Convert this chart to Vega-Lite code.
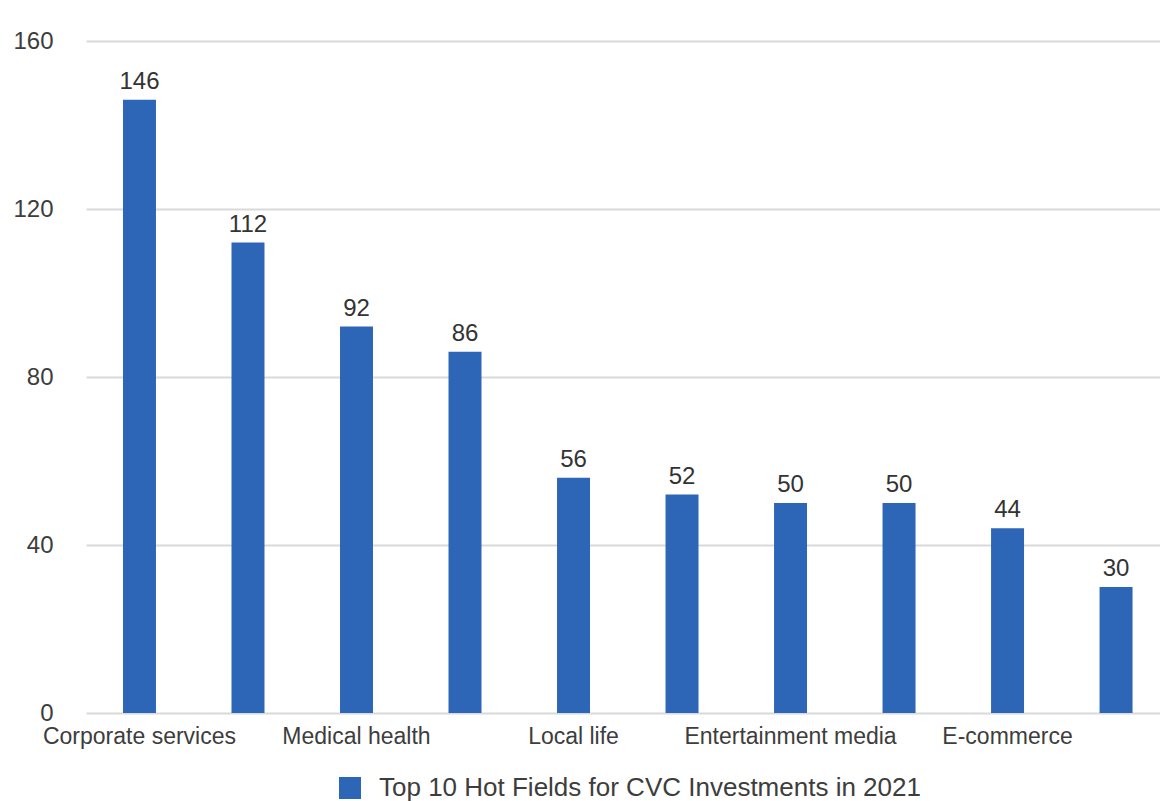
{
  "$schema": "https://vega.github.io/schema/vega-lite/v6.json",
  "autosize": "none",
  "padding": {"left": 86, "top": 41, "right": 0, "bottom": 88},
  "width": 1074,
  "height": 672,
  "background": "#ffffff",
  "config": {
    "view": {"stroke": null},
    "font": "Liberation Sans",
    "axis": {"labelColor": "#3d3d3d", "labelFont": "Liberation Sans"},
    "legend": {"labelColor": "#3d3d3d", "labelFont": "Liberation Sans"}
  },
  "data": {
    "values": [
      {"field": "Corporate services", "deals": 146, "series": "Top 10 Hot Fields for CVC Investments in 2021"},
      {"field": "Advanced manufacturing", "deals": 112, "series": "Top 10 Hot Fields for CVC Investments in 2021"},
      {"field": "Medical health", "deals": 92, "series": "Top 10 Hot Fields for CVC Investments in 2021"},
      {"field": "Hardware", "deals": 86, "series": "Top 10 Hot Fields for CVC Investments in 2021"},
      {"field": "Local life", "deals": 56, "series": "Top 10 Hot Fields for CVC Investments in 2021"},
      {"field": "Education", "deals": 52, "series": "Top 10 Hot Fields for CVC Investments in 2021"},
      {"field": "Entertainment media", "deals": 50, "series": "Top 10 Hot Fields for CVC Investments in 2021"},
      {"field": "Finance", "deals": 50, "series": "Top 10 Hot Fields for CVC Investments in 2021"},
      {"field": "E-commerce", "deals": 44, "series": "Top 10 Hot Fields for CVC Investments in 2021"},
      {"field": "Automobile transportation", "deals": 30, "series": "Top 10 Hot Fields for CVC Investments in 2021"}
    ]
  },
  "encoding": {
    "x": {
      "field": "field",
      "type": "nominal",
      "sort": null,
      "scale": {"paddingInner": 0.696, "paddingOuter": 0.297, "align": 0.574},
      "axis": {
        "title": null,
        "ticks": false,
        "domain": false,
        "labelAngle": 0,
        "labelFontSize": 23,
        "labelPadding": 12,
        "labelBaseline": "top",
        "labelOverlap": false,
        "labelLimit": 0,
        "labelExpr": "indexof(['Corporate services', 'Medical health', 'Local life', 'Entertainment media', 'E-commerce'], datum.value) >= 0 ? datum.label : ''"
      }
    },
    "y": {
      "field": "deals",
      "type": "quantitative",
      "scale": {"domain": [0, 160], "nice": false},
      "axis": {
        "title": null,
        "values": [0, 40, 80, 120, 160],
        "ticks": false,
        "domain": false,
        "grid": true,
        "gridColor": "#d9d9d9",
        "gridWidth": 2,
        "labelFontSize": 24,
        "labelPadding": 33,
        "labelAlign": "right"
      }
    }
  },
  "layer": [
    {
      "mark": {"type": "bar", "color": "#2e66b7"},
      "encoding": {
        "color": {
          "field": "series",
          "type": "nominal",
          "scale": {"range": ["#2e66b7"]},
          "legend": {
            "title": null,
            "orient": "none",
            "legendX": 251,
            "legendY": 734,
            "symbolType": "square",
            "symbolSize": 484,
            "symbolStrokeWidth": 0,
            "labelFontSize": 26,
            "labelOffset": 16,
            "labelLimit": 0
          }
        }
      }
    },
    {
      "mark": {"type": "text", "baseline": "alphabetic", "dy": -11, "fontSize": 24, "color": "#333333"},
      "encoding": {"text": {"field": "deals", "type": "quantitative"}}
    }
  ]
}
